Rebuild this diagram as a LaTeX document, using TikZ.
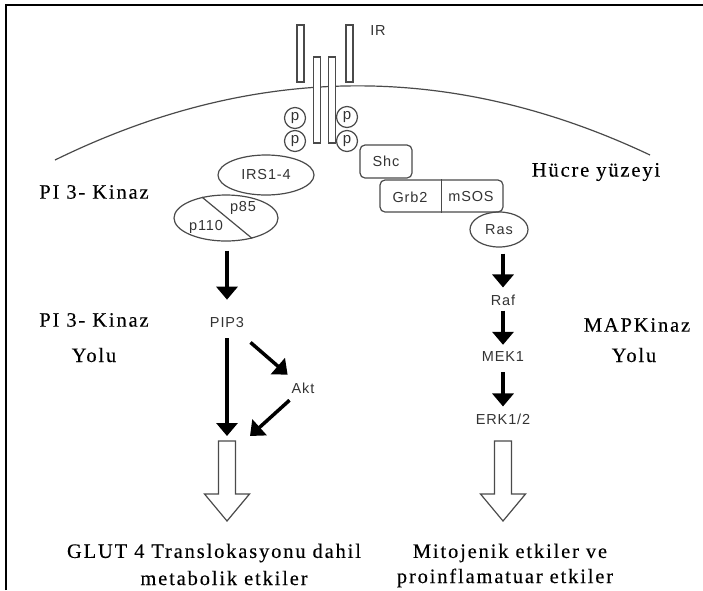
\documentclass[tikz,border=0pt]{standalone}
\usepackage{fontspec}
\setmainfont{Liberation Serif}
\newfontfamily\capfont{Liberation Serif}[LetterSpace=9,FakeBold=0.25]
\newfontfamily\lsans{Liberation Sans}[LetterSpace=6]
\usetikzlibrary{arrows.meta,shapes.geometric}
\definecolor{shapegray}{HTML}{4A4A4A}
\definecolor{labgray}{HTML}{333333}
\tikzset{
  memb/.style={draw=shapegray,line width=1.2pt},
  bar/.style={draw=shapegray,fill=white,line width=1.2pt,minimum width=7pt,inner sep=0pt},
  pcirc/.style={circle,draw=shapegray,fill=white,line width=1.2pt,minimum size=21pt,inner sep=0pt,font=\lsans\fontsize{15}{15}\selectfont,text=labgray},
  ell/.style={ellipse,draw=shapegray,line width=1.2pt,inner sep=0pt,font=\lsans\fontsize{14.5}{14.5}\selectfont,text=labgray},
  rbox/.style={rectangle,rounded corners=5pt,draw=shapegray,line width=1.2pt,inner sep=0pt,font=\lsans\fontsize{14.5}{14.5}\selectfont,text=labgray},
  lab/.style={inner sep=0pt,font=\lsans\fontsize{14.5}{14.5}\selectfont,text=labgray},
  captext/.style={inner sep=0pt,font=\capfont\fontsize{20.5}{25}\selectfont,align=center},
  arr/.style={draw=black,line width=3.5pt,-{Triangle[width=21pt,length=13pt]}},
  hollow/.style={draw=shapegray,line width=1.2pt,fill=white,line join=miter}
}
\begin{document}
\begin{tikzpicture}[x=1pt,y=-1pt]
\useasboundingbox (0,0) rectangle (703,590);
\draw[line width=2pt] (6,590) -- (6,5) -- (703,5);
% membrane
\draw[memb] (55,160) .. controls (253,63) and (451,61) .. (650,155);
% receptor
\node[bar,minimum height=57pt] (irOL) at (300.5,53.5) {};
\node[bar,minimum height=57pt] (irOR) at (349.5,53.5) {};
\node[bar,minimum height=86pt] (irIL) at (317,100) {};
\node[bar,minimum height=86pt] (irIR) at (332,100) {};
\node[lab] (ir) at (378,31) {IR};
% phosphates
\node[pcirc] (pL1) at (295,118) {p};
\node[pcirc] (pL2) at (295,141) {p};
\node[pcirc] (pR1) at (347,117) {p};
\node[pcirc] (pR2) at (347,141) {p};
% left complex
\node[ell,minimum width=96pt,minimum height=40pt] (irs) at (266,175) {IRS1-4};
\node[ell,minimum width=104pt,minimum height=46pt] (pi3k) at (226,218) {};
\draw[draw=shapegray,line width=1.2pt] (pi3k.139) -- (pi3k.-38);
\node[lab] (p85) at (243,208) {p85};
\node[lab] (p110) at (206,227) {p110};
% right complex
\node[rbox,minimum width=52pt,minimum height=33pt] (shc) at (386,161.5) {Shc};
\node[rbox,minimum width=123pt,minimum height=32pt] (grb) at (441.5,196) {};
\draw[draw=shapegray,line width=1.2pt] (grb.north) -- (grb.south);
\node[lab] (grb2) at (410,197) {Grb2};
\node[lab] (msos) at (471,197) {mSOS};
\node[ell,minimum width=58pt,minimum height=35pt] (ras) at (499,229.5) {Ras};
% pathway labels
\node[lab] (pip3) at (227,322) {PIP3};
\node[lab] (akt) at (303,388) {Akt};
\node[lab] (raf) at (503,300) {Raf};
\node[lab] (mek) at (503,357) {MEK1};
\node[lab] (erk) at (503,419) {ERK1/2};
% hollow arrows
\coordinate (hl) at (227,441);
\coordinate (hr) at (503,441);
\coordinate (aktend) at (250,436);
\draw[hollow] (hl) ++(-8.5,0) -- ++(17,0) -- ++(0,53) -- ++(14,0) -- ++(-22.5,27) -- ++(-22.5,-27) -- ++(14,0) -- cycle;
\draw[hollow] (hr) ++(-8.5,0) -- ++(17,0) -- ++(0,53) -- ++(14,0) -- ++(-22.5,27) -- ++(-22.5,-27) -- ++(14,0) -- cycle;
% arrows
\draw[arr,shorten <=9pt,shorten >=17pt] ([xshift=1pt]pi3k.south) -- (pip3.north);
\draw[arr,shorten <=11pt,shorten >=5pt] (pip3.south) -- (hl);
\draw[arr,shorten <=23pt,shorten >=12pt] (pip3) -- (akt);
\draw[arr,shorten <=10pt] (akt) -- (aktend);
\draw[arr,shorten <=6pt,shorten >=7pt] ([xshift=4pt]ras.south) -- (raf.north);
\draw[arr,shorten <=5pt,shorten >=7pt] (raf.south) -- (mek.north);
\draw[arr,shorten <=10pt,shorten >=7pt] (mek.south) -- (erk.north);
% captions
\node[captext] (pik1) at (94,192) {PI 3- Kinaz};
\node[captext] (pik2) at (94,320) {PI 3- Kinaz};
\node[captext] (yolu1) at (94,355) {Yolu};
\node[captext] (hucre) at (596,172) {Hücre yüzeyi};
\node[captext] (mapk) at (637,325) {MAPKinaz};
\node[captext] (yolu2) at (634,355) {Yolu};
\node[captext] (glut) at (214,553) {GLUT 4 Translokasyonu dahil};
\node[captext] (metab) at (224,578) {metabolik etkiler};
\node[captext] (mito) at (510,553) {Mitojenik etkiler ve};
\node[captext] (proin) at (505,578) {proinflamatuar etkiler};
\end{tikzpicture}
\end{document}
